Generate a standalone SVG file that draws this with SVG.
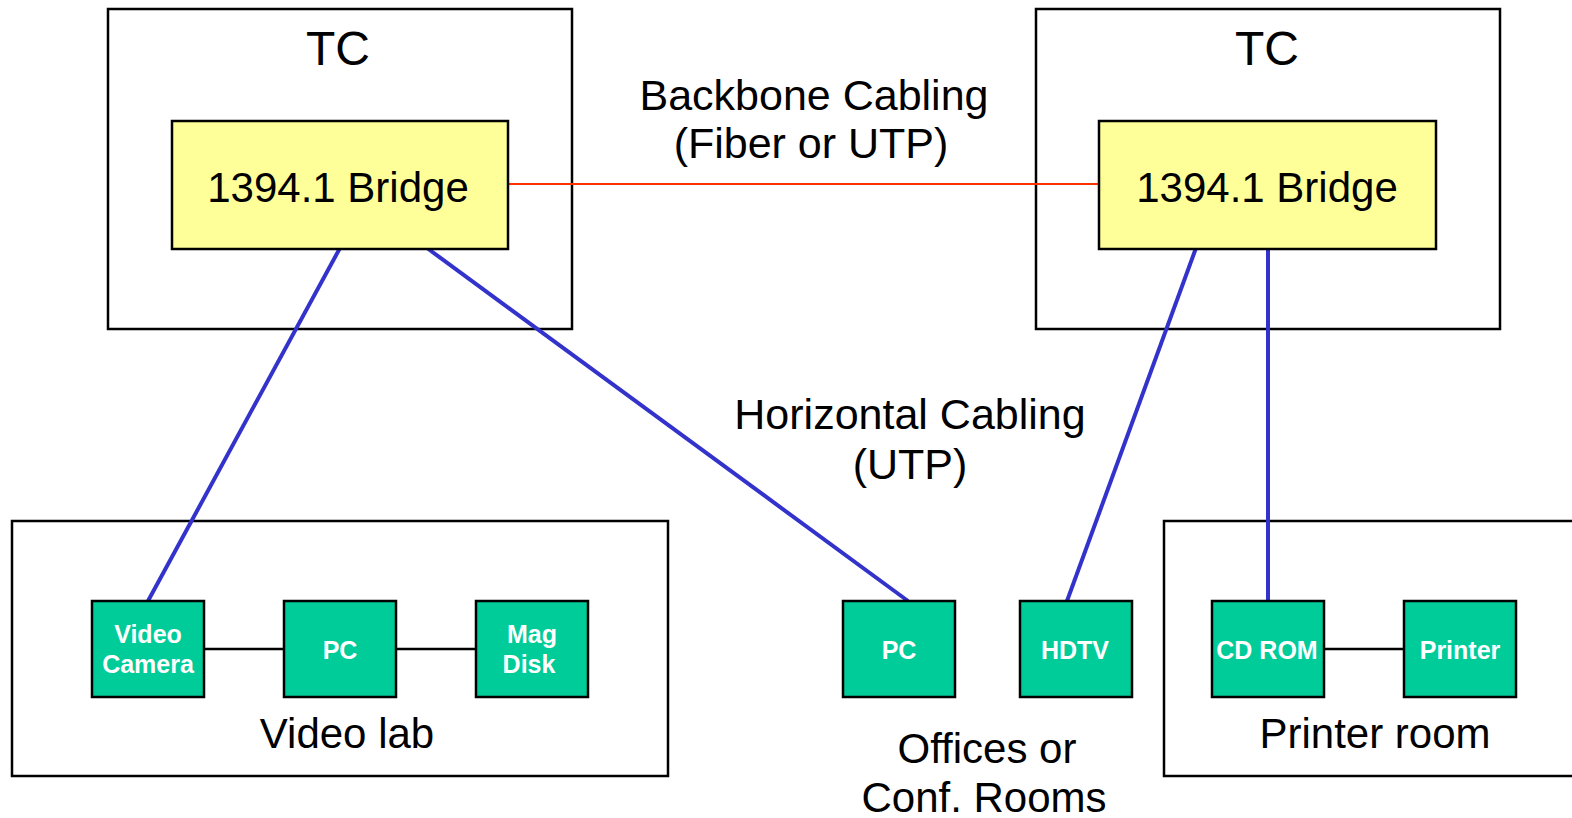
<svg xmlns="http://www.w3.org/2000/svg" width="1572" height="818" viewBox="0 0 1572 818">
<style>
.room{fill:#fff;stroke:#000;stroke-width:2.5}
.bridge{fill:#FFFF99;stroke:#000;stroke-width:2.5}
.dev{fill:#00CC99;stroke:#000;stroke-width:2.5}
.lbl{font-family:"Liberation Sans",Arial,sans-serif;fill:#000;text-anchor:middle}
.dl{font-family:"Liberation Sans",Arial,sans-serif;font-weight:bold;font-size:25px;fill:#fff;text-anchor:middle}
.blue{stroke:#3333CC;stroke-width:4;fill:none}
.blk{stroke:#000;stroke-width:2.5;fill:none}
.red{stroke:#FF3300;stroke-width:2;fill:none}
</style>
<rect width="1572" height="818" fill="#fff"/>
<g id="tc-left">
<rect class="room" x="108" y="9" width="464" height="320"/>
<text class="lbl" x="338" y="65" font-size="48">TC</text>
</g>
<g id="tc-right">
<rect class="room" x="1036" y="9" width="464" height="320"/>
<text class="lbl" x="1267" y="65" font-size="48">TC</text>
</g>
<g id="video-lab">
<rect class="room" x="12" y="521" width="656" height="255"/>
<text class="lbl" x="347" y="748" font-size="42">Video lab</text>
</g>
<g id="printer-room">
<rect class="room" x="1164" y="521" width="420" height="255"/>
<text class="lbl" x="1375" y="748" font-size="42">Printer room</text>
</g>
<g id="offices">
<text class="lbl" x="987" y="763" font-size="42">Offices or</text>
<text class="lbl" x="984" y="812" font-size="42">Conf. Rooms</text>
</g>
<g id="backbone-label">
<text class="lbl" x="814" y="110" font-size="43">Backbone Cabling</text>
<text class="lbl" x="811" y="158" font-size="43">(Fiber or UTP)</text>
</g>
<g id="horizontal-label">
<text class="lbl" x="910" y="429" font-size="43">Horizontal Cabling</text>
<text class="lbl" x="910" y="479" font-size="43">(UTP)</text>
</g>
<g id="connectors">
<line class="red" x1="508" y1="184" x2="1099" y2="184"/>
<line class="blue" x1="340" y1="248" x2="148" y2="601"/>
<line class="blue" x1="427" y1="248" x2="908" y2="601"/>
<line class="blue" x1="1196" y1="248" x2="1067" y2="601"/>
<line class="blue" x1="1268" y1="248" x2="1268" y2="601"/>
<line class="blk" x1="204" y1="649" x2="284" y2="649"/>
<line class="blk" x1="396" y1="649" x2="476" y2="649"/>
<line class="blk" x1="1324" y1="649" x2="1404" y2="649"/>
</g>
<g id="bridge-left">
<rect class="bridge" x="172" y="121" width="336" height="128"/>
<text class="lbl" x="338" y="202" font-size="42">1394.1 Bridge</text>
</g>
<g id="bridge-right">
<rect class="bridge" x="1099" y="121" width="337" height="128"/>
<text class="lbl" x="1267" y="202" font-size="42">1394.1 Bridge</text>
</g>
<g id="video-camera">
<rect class="dev" x="92" y="601" width="112" height="96"/>
<text class="dl" x="148" y="643">Video</text>
<text class="dl" x="148" y="673">Camera</text>
</g>
<g id="pc-lab">
<rect class="dev" x="284" y="601" width="112" height="96"/>
<text class="dl" x="340" y="659">PC</text>
</g>
<g id="mag-disk">
<rect class="dev" x="476" y="601" width="112" height="96"/>
<text class="dl" x="532" y="643">Mag</text>
<text class="dl" x="529" y="673">Disk</text>
</g>
<g id="pc-office">
<rect class="dev" x="843" y="601" width="112" height="96"/>
<text class="dl" x="899" y="659">PC</text>
</g>
<g id="hdtv">
<rect class="dev" x="1020" y="601" width="112" height="96"/>
<text class="dl" x="1075" y="659">HDTV</text>
</g>
<g id="cd-rom">
<rect class="dev" x="1212" y="601" width="112" height="96"/>
<text class="dl" x="1267" y="659">CD ROM</text>
</g>
<g id="printer">
<rect class="dev" x="1404" y="601" width="112" height="96"/>
<text class="dl" x="1460" y="659">Printer</text>
</g>
</svg>
